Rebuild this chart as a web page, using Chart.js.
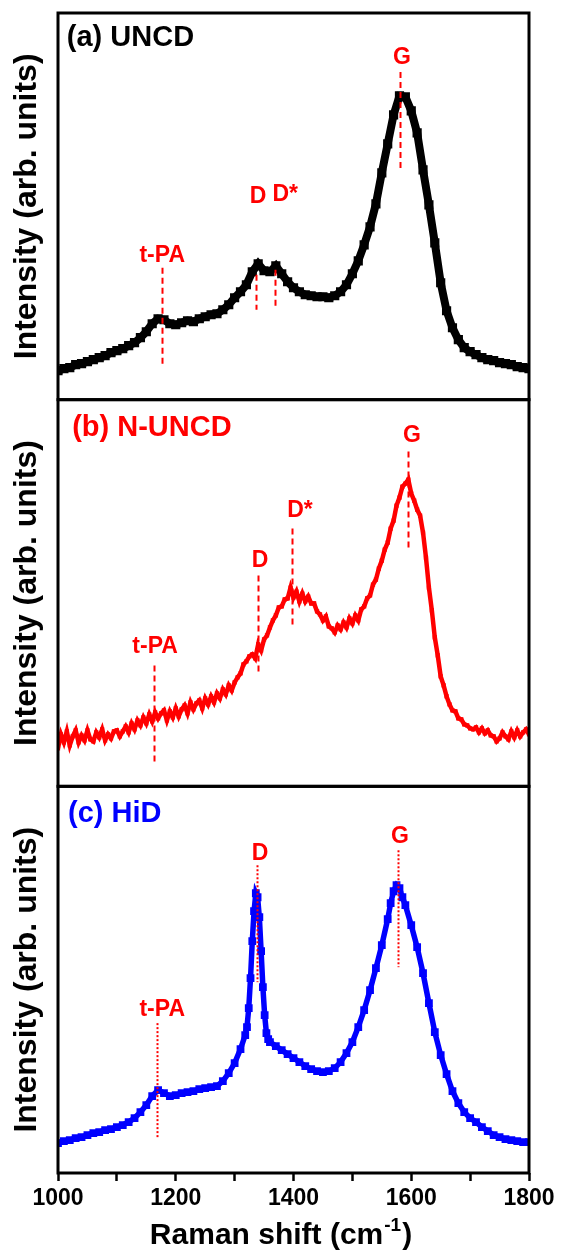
<!DOCTYPE html>
<html>
<head>
<meta charset="utf-8">
<script src="https://cdn.jsdelivr.net/npm/chart.js@4.4.1/dist/chart.umd.min.js"></script>
<style>
html,body{margin:0;padding:0;background:#fff;}
canvas{display:block;}
</style>
</head>
<body>
<canvas id="c" width="561" height="1254"></canvas>
<script>
// ---------- data (Raman shift in cm-1, intensity in arbitrary units) ----------
const shiftA = [1000,1010,1020,1030,1040,1050,1060,1070,1080,1090,1100,1110,1120,1130,1140,1150,1160,1170,1180,1190,1200,1210,1220,1230,1240,1250,1260,1270,1280,1290,1300,1310,1320,1330,1340,1350,1360,1370,1380,1390,1400,1410,1420,1430,1440,1450,1460,1470,1480,1490,1500,1510,1520,1530,1540,1550,1560,1570,1580,1590,1600,1610,1620,1630,1640,1650,1660,1670,1680,1690,1700,1710,1720,1730,1740,1750,1760,1770,1780,1790,1800];
const intensityA = [29,31,32,35,36,38,40,42,44,47,49,51,54,57,62,68,76,81,80,76,75,77,79,78,81,83,85,86,90,95,102,108,115,128,136,129,128,134,126,118,112,108,105,104,103,103,102,104,108,115,126,139,155,173,196,227,256,285,304,303,289,267,230,195,157,117,89,72,60,52,48,45,42,40,39,37,36,35,33,32,31];

const shiftB = [1000,1005,1010,1015,1020,1025,1030,1035,1040,1045,1050,1055,1060,1065,1070,1075,1080,1085,1090,1095,1100,1105,1110,1115,1120,1125,1130,1135,1140,1145,1150,1155,1160,1165,1170,1175,1180,1185,1190,1195,1200,1205,1210,1215,1220,1225,1230,1235,1240,1245,1250,1255,1260,1265,1270,1275,1280,1285,1290,1295,1300,1305,1310,1315,1320,1325,1330,1335,1340,1345,1350,1355,1360,1365,1370,1375,1380,1385,1390,1395,1400,1405,1410,1415,1420,1425,1430,1435,1440,1445,1450,1455,1460,1465,1470,1475,1480,1485,1490,1495,1500,1505,1510,1515,1520,1525,1530,1535,1540,1545,1550,1555,1560,1565,1570,1575,1580,1585,1590,1595,1600,1605,1610,1615,1620,1625,1630,1635,1640,1645,1650,1655,1660,1665,1670,1675,1680,1685,1690,1695,1700,1705,1710,1715,1720,1725,1730,1735,1740,1745,1750,1755,1760,1765,1770,1775,1780,1785,1790,1795,1800];
const intensityB = [38,52,44,55,41,50,56,44,51,46,56,47,45,54,49,57,46,52,48,55,56,
  50,55,60,54,63,57,66,61,69,63,72,65,74,68,73,76,66,75,69,78,
  70,77,81,73,84,77,83,86,78,88,82,90,84,93,88,97,92,101,96,104,
  109,113,122,125,130,132,128,142,136,147,151,159,166,171,179,180,187,188,199,189,
  195,185,193,185,190,183,183,175,172,166,170,160,158,154,161,157,164,159,168,163,
  171,166,177,180,188,191,202,207,218,226,237,244,258,266,281,289,300,303,307,293,
  286,277,271,254,229,199,176,149,131,110,101,90,82,76,75,68,67,62,61,58,
  57,59,54,58,53,56,51,50,45,48,54,50,47,55,49,56,50,54,57,52];

const shiftC = [1000,1010,1020,1030,1040,1050,1060,1070,1080,1090,1100,1110,1120,1130,1140,1150,1160,1170,1180,1190,1200,1210,1220,1230,1240,1250,1260,1270,1280,1290,1300,1310,1318,1321,1324,1327,1330,1333,1336,1339,1342,1345,1348,1351,1354,1357,1360,1370,1380,1390,1400,1410,1420,1430,1440,1450,1460,1470,1480,1490,1500,1510,1520,1530,1540,1550,1560,1565,1570,1575,1580,1585,1590,1600,1610,1620,1630,1640,1650,1660,1670,1680,1690,1700,1710,1720,1730,1740,1750,1760,1770,1780,1790,1800];
const intensityC = [30,32,33,35,36,38,40,41,43,44,46,48,51,55,61,68,77,83,80,77,78,80,81,82,84,85,86,87,92,100,110,124,138,146,165,195,232,262,280,276,256,222,186,158,140,134,131,127,123,119,115,111,107,104,102,101,102,105,111,120,131,146,163,183,205,228,254,270,282,288,285,276,268,248,226,200,170,141,118,99,82,70,61,55,51,46,42,38,36,34,33,32,31,31];

const xTickLabels = ['1000','1200','1400','1600','1800'];
const panelNames = ['(a) UNCD','(b) N-UNCD','(c) HiD'];
const panelColors = ['#000000','#ff0000','#0000ff'];
const panelLabelShift = [1015,1024,1017];
const panelLabelY = [362,359,359];

// peak markers per panel
const peakNamesA = ['t-PA','D','D*','G'];
const peakShiftA = [1176,1337,1369,1581];
const peakLabelShiftA = [1177,1340,1386,1584];
const peakLabelYA = [144,203,205,342];
const peakTopA = [132,125,130,328];
const peakBottomA = [32,90,93,228];

const peakNamesB = ['t-PA','D','D*','G'];
const peakShiftB = [1163,1340,1397,1594];
const peakLabelShiftB = [1165,1343,1411,1601];
const peakLabelYB = [140,226,276,351];
const peakTopB = [121,211,258,335];
const peakBottomB = [23,113,158,238];

const peakNamesC = ['t-PA','D','G'];
const peakShiftC = [1169,1338,1578];
const peakLabelShiftC = [1177,1343,1581];
const peakLabelYC = [163,320,337];
const peakTopC = [150,308,323];
const peakBottomC = [35,191,206];

const xTitleMain = 'Raman shift (cm';
const xTitleSup = '-1';
const xTitleEnd = ')';
const yTitle = 'Intensity (arb. units)';

// ---------- chart ----------
const FONT = "'Liberation Sans', Arial, sans-serif";
Chart.defaults.font.family = FONT;

const pts = (xs, ys) => xs.map((x, i) => ({x: x, y: ys[i]}));

const peakSets = {
  ya: {names: peakNamesA, shift: peakShiftA, lx: peakLabelShiftA, ly: peakLabelYA, top: peakTopA, bot: peakBottomA, dash: [6,4]},
  yb: {names: peakNamesB, shift: peakShiftB, lx: peakLabelShiftB, ly: peakLabelYB, top: peakTopB, bot: peakBottomB, dash: [6,4]},
  yc: {names: peakNamesC, shift: peakShiftC, lx: peakLabelShiftC, ly: peakLabelYC, top: peakTopC, bot: peakBottomC, dash: [2,2]}
};
const panelAxes = ['ya','yb','yc'];

const decorPlugin = {
  id: 'decor',
  afterDatasetsDraw(chart) {
    const ctx = chart.ctx;
    const xs = chart.scales.x;
    ctx.save();
    panelAxes.forEach((id, p) => {
      const ys = chart.scales[id];
      const s = peakSets[id];
      ctx.strokeStyle = '#ff0000';
      ctx.fillStyle = '#ff0000';
      ctx.lineWidth = 2;
      ctx.setLineDash(s.dash);
      s.shift.forEach((v, i) => {
        const px = Math.round(xs.getPixelForValue(v)) + 0.5;
        ctx.beginPath();
        ctx.moveTo(px, ys.getPixelForValue(s.top[i]));
        ctx.lineTo(px, ys.getPixelForValue(s.bot[i]));
        ctx.stroke();
      });
      ctx.setLineDash([]);
      ctx.font = 'bold 23px ' + FONT;
      ctx.textAlign = 'center';
      ctx.textBaseline = 'middle';
      s.names.forEach((n, i) => {
        ctx.fillText(n, xs.getPixelForValue(s.lx[i]), ys.getPixelForValue(s.ly[i]));
      });
      ctx.font = 'bold 29px ' + FONT;
      ctx.textAlign = 'left';
      ctx.fillStyle = panelColors[p];
      ctx.fillText(panelNames[p], xs.getPixelForValue(panelLabelShift[p]), ys.getPixelForValue(panelLabelY[p]));
    });
    ctx.restore();
  },
  afterDraw(chart) {
    const ctx = chart.ctx;
    const ca = chart.chartArea;
    ctx.save();
    ctx.strokeStyle = '#000';
    ctx.lineWidth = 3;
    panelAxes.forEach(id => {
      const ys = chart.scales[id];
      ctx.strokeRect(ca.left, ys.top, ca.right - ca.left, ys.bottom - ys.top);
    });
    // x axis title with superscript
    ctx.fillStyle = '#000';
    ctx.textBaseline = 'alphabetic';
    ctx.textAlign = 'left';
    ctx.font = 'bold 30px ' + FONT;
    const w1 = ctx.measureText(xTitleMain).width;
    const w3 = ctx.measureText(xTitleEnd).width;
    ctx.font = 'bold 19px ' + FONT;
    const w2 = ctx.measureText(xTitleSup).width;
    const cx = 280, by = 1244;
    const x0 = cx - (w1 + w2 + w3) / 2;
    ctx.font = 'bold 30px ' + FONT;
    ctx.fillText(xTitleMain, x0, by);
    ctx.font = 'bold 19px ' + FONT;
    ctx.fillText(xTitleSup, x0 + w1 + 1, by - 13);
    ctx.font = 'bold 30px ' + FONT;
    ctx.fillText(xTitleEnd, x0 + w1 + w2 + 2, by);
    ctx.restore();
  }
};

const yAxis = () => ({
  type: 'linear',
  position: 'left',
  stack: 'spectra',
  stackWeight: 1,
  min: 0,
  max: 387,
  ticks: {display: false},
  grid: {display: false, drawTicks: false},
  border: {display: false},
  title: {
    display: true,
    text: yTitle,
    color: '#000',
    font: {size: 32, weight: 'bold', family: FONT, lineHeight: 1},
    padding: {top: 11, bottom: 0}
  },
  afterFit(scale) { scale.width = 58; }
});

new Chart(document.getElementById('c'), {
  type: 'scatter',
  data: {
    datasets: [
      {label: panelNames[0], data: pts(shiftA, intensityA), yAxisID: 'ya', xAxisID: 'x', showLine: true,
       borderColor: '#000', backgroundColor: '#000', borderWidth: 8, pointStyle: 'rect', pointRadius: 6.5,
       pointBorderWidth: 0, pointBackgroundColor: '#000', tension: 0},
      {label: panelNames[1], data: pts(shiftB, intensityB), yAxisID: 'yb', xAxisID: 'x', showLine: true,
       borderColor: '#ff0000', backgroundColor: '#ff0000', borderWidth: 4.5, pointStyle: 'rect', pointRadius: 3,
       pointBorderWidth: 0, pointBackgroundColor: '#ff0000', tension: 0},
      {label: panelNames[2], data: pts(shiftC, intensityC), yAxisID: 'yc', xAxisID: 'x', showLine: true,
       borderColor: '#0000ff', backgroundColor: '#0000ff', borderWidth: 5.5, pointStyle: 'rect', pointRadius: 5.5,
       pointBorderWidth: 0, pointBackgroundColor: '#0000ff', tension: 0}
    ]
  },
  options: {
    responsive: false,
    animation: false,
    devicePixelRatio: 1,
    events: [],
    layout: {padding: {left: 0, right: 32, top: 13, bottom: 0}},
    plugins: {legend: {display: false}, tooltip: {enabled: false}, title: {display: false}},
    scales: {
      x: {
        type: 'linear',
        position: 'bottom',
        min: 1000,
        max: 1800,
        ticks: {
          stepSize: 100,
          autoSkip: false,
          maxRotation: 0,
          color: '#000',
          padding: 4,
          font: {size: 23, weight: 'bold', family: FONT},
          callback: (v) => xTickLabels.includes(String(v)) ? String(v) : ''
        },
        grid: {display: true, drawOnChartArea: false, drawTicks: true, tickLength: 8, tickColor: '#000', tickWidth: 2.5},
        border: {display: false},
        title: {display: false},
        afterFit(scale) { scale.height = 81; }
      },
      yc: yAxis(),
      yb: yAxis(),
      ya: yAxis()
    }
  },
  plugins: [decorPlugin]
});
</script>
</body>
</html>
